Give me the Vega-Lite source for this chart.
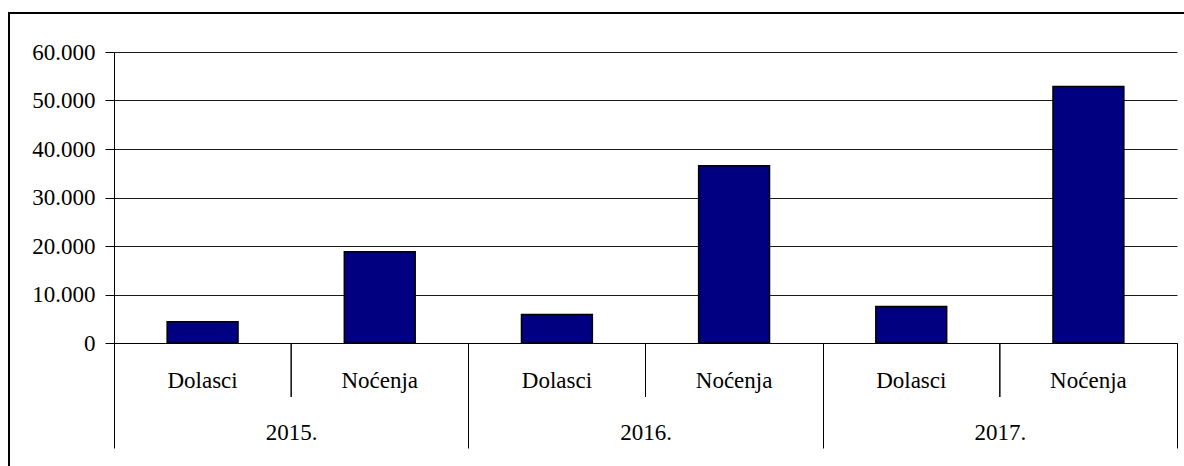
{
  "$schema": "https://vega.github.io/schema/vega-lite/v6.json",
  "width": 1063,
  "height": 291,
  "autosize": {"type": "none"},
  "padding": {"left": 114, "top": 52, "right": 7, "bottom": 123},
  "background": "white",
  "config": {
    "view": {"stroke": null},
    "font": "Liberation Serif"
  },
  "data": {
    "values": [
      {"year": "2015.", "type": "Dolasci", "value": 4400},
      {"year": "2015.", "type": "Noćenja", "value": 18800},
      {"year": "2016.", "type": "Dolasci", "value": 5900},
      {"year": "2016.", "type": "Noćenja", "value": 36550},
      {"year": "2017.", "type": "Dolasci", "value": 7550},
      {"year": "2017.", "type": "Noćenja", "value": 52900}
    ]
  },
  "encoding": {
    "x": {
      "field": "year",
      "type": "nominal",
      "sort": ["2015.", "2016.", "2017."],
      "scale": {"paddingInner": 0, "paddingOuter": 0},
      "axis": {
        "title": null,
        "domain": true,
        "domainColor": "black",
        "domainWidth": 1,
        "ticks": true,
        "tickBand": "extent",
        "tickSize": 105,
        "tickColor": "black",
        "tickWidth": 1,
        "labelAngle": 0,
        "labelPadding": -9,
        "labelBaseline": "alphabetic",
        "labelFont": "Liberation Serif",
        "labelFontSize": 23,
        "labelColor": "black",
        "grid": false
      }
    }
  },
  "layer": [
    {
      "mark": {"type": "bar", "color": "#000080", "stroke": "black", "strokeWidth": 1.5},
      "encoding": {
        "xOffset": {
          "field": "type",
          "type": "nominal",
          "sort": ["Dolasci", "Noćenja"],
          "scale": {"paddingInner": 0.6, "paddingOuter": 0.3}
        },
        "y": {
          "field": "value",
          "type": "quantitative",
          "scale": {"domain": [0, 60000], "nice": false},
          "axis": {
            "title": null,
            "values": [0, 10000, 20000, 30000, 40000, 50000, 60000],
            "labelExpr": "replace(format(datum.value, ','), ',', '.')",
            "grid": true,
            "gridColor": "#1a1a1a",
            "gridWidth": 1,
            "domain": true,
            "domainColor": "black",
            "domainWidth": 1,
            "tickSize": 9,
            "tickColor": "black",
            "tickWidth": 1,
            "labelPadding": 10,
            "labelFont": "Liberation Serif",
            "labelFontSize": 23,
            "labelColor": "black"
          }
        }
      }
    },
    {
      "mark": {"type": "text", "font": "Liberation Serif", "fontSize": 23, "color": "black", "baseline": "alphabetic", "align": "center", "dy": 45},
      "encoding": {
        "xOffset": {
          "field": "type",
          "type": "nominal",
          "sort": ["Dolasci", "Noćenja"]
        },
        "y": {"datum": 0, "type": "quantitative"},
        "text": {"field": "type"}
      }
    },
    {
      "mark": {"type": "rule", "color": "black", "strokeWidth": 1, "y2Offset": 54},
      "encoding": {
        "y": {"datum": 0, "type": "quantitative"},
        "y2": {"datum": 0}
      }
    },
    {
      "data": {"values": [{}]},
      "mark": {"type": "rule", "color": "black", "strokeWidth": 2, "xOffset": -105, "yOffset": -40, "y2Offset": 130},
      "encoding": {
        "x": {"datum": "2015.", "bandPosition": 0},
        "y": {"datum": 60000, "type": "quantitative"},
        "y2": {"datum": 0}
      }
    },
    {
      "data": {"values": [{}]},
      "mark": {"type": "rule", "color": "black", "strokeWidth": 2, "xOffset": -106, "x2Offset": 7, "yOffset": -39},
      "encoding": {
        "x": {"datum": "2015.", "bandPosition": 0},
        "x2": {"datum": "2017.", "bandPosition": 1},
        "y": {"datum": 60000, "type": "quantitative"}
      }
    }
  ]
}
